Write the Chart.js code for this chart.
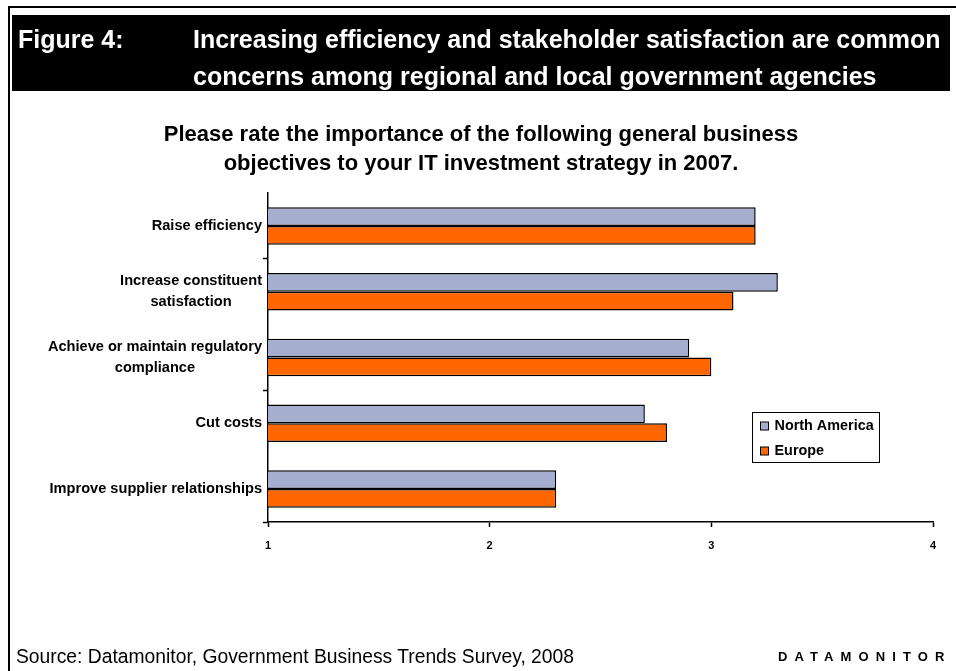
<!DOCTYPE html>
<html>
<head>
<meta charset="utf-8">
<script src="https://cdn.jsdelivr.net/npm/chart.js@4.4.1/dist/chart.umd.min.js"></script>
<style>
  html, body { margin: 0; padding: 0; background: #fff; }
  #page { position: relative; width: 956px; height: 671px; overflow: hidden;
          font-family: "Liberation Sans", Arial, sans-serif; }
  #chart { position: absolute; left: 0; top: 0; }
  #frame { position: absolute; left: 8px; top: 6px; width: 1000px; height: 700px;
           border-top: 2px solid #000; border-left: 2px solid #000; pointer-events: none; }
  #band { position: absolute; left: 12px; top: 15px; width: 938px; height: 76px;
          background: #000; color: #fff; font-weight: bold; font-size: 25px; line-height: 37px; }
  #band .fig { position: absolute; left: 6px; top: 6px; }
  #band .head { position: absolute; left: 181px; top: 6px; white-space: nowrap; }
  #source { position: absolute; left: 16px; top: 646px; font-size: 19.3px; line-height: 22px; white-space: nowrap; }
  #brand { position: absolute; left: 778px; top: 649px; font-size: 13px; font-weight: bold;
           letter-spacing: 7.1px; line-height: 16px; white-space: nowrap; }
</style>
</head>
<body>
<div id="page">
  <canvas id="chart" width="956" height="671"></canvas>
  <div id="frame"></div>
  <div id="band">
    <div class="fig">Figure 4:</div>
    <div class="head">Increasing efficiency and stakeholder satisfaction are common<br>concerns among regional and local government agencies</div>
  </div>
  <div id="source">Source: Datamonitor, Government Business Trends Survey, 2008</div>
  <div id="brand">DATAMONITOR</div>
</div>
<script>
// Survey objectives (multi-line labels) and mean importance ratings
const categories = [
  ["Raise efficiency"],
  ["Increase constituent", "satisfaction"],
  ["Achieve or maintain regulatory", "compliance"],
  ["Cut costs"],
  ["Improve supplier relationships"]
];
const northAmerica = [3.2, 3.3, 2.9, 2.7, 2.3];
const europe = [3.2, 3.1, 3.0, 2.8, 2.3];
const ratingTicks = [1, 2, 3, 4];
const questionLines = [
  "Please rate the importance of the following general business",
  "objectives to your IT investment strategy in 2007."
];

const FONT = '"Liberation Sans", Arial, sans-serif';

// Category labels: each block right-aligned to the axis, its lines centred
const categoryLabels = {
  id: 'categoryLabels',
  afterDraw(chart) {
    const { ctx } = chart;
    const y = chart.scales.y;
    ctx.save();
    ctx.font = 'bold 14.6px ' + FONT;
    ctx.fillStyle = '#000';
    ctx.textBaseline = 'middle';
    ctx.textAlign = 'center';
    const right = y.right - 6;
    const lh = 21;
    chart.data.labels.forEach((lines, i) => {
      const yc = y.getPixelForValue(i);
      const w = Math.max(...lines.map(l => ctx.measureText(l).width));
      const cx = right - w / 2;
      lines.forEach((l, j) => ctx.fillText(l, cx, yc + (j - (lines.length - 1) / 2) * lh));
    });
    ctx.restore();
  }
};

// Boxed legend inside the plot area
const boxedLegend = {
  id: 'boxedLegend',
  afterDraw(chart) {
    const { ctx } = chart;
    const x0 = 752.5, y0 = 412.5, w = 127, h = 50;
    ctx.save();
    ctx.fillStyle = '#fff';
    ctx.fillRect(x0, y0, w, h);
    ctx.strokeStyle = '#000';
    ctx.lineWidth = 1;
    ctx.strokeRect(x0, y0, w, h);
    ctx.font = 'bold 14.4px ' + FONT;
    ctx.textBaseline = 'middle';
    ctx.textAlign = 'left';
    chart.data.datasets.forEach((ds, i) => {
      const cy = y0 + 13.5 + i * 25;
      ctx.fillStyle = ds.backgroundColor;
      ctx.fillRect(x0 + 8, cy - 4, 8, 8);
      ctx.strokeStyle = '#000';
      ctx.lineWidth = 1;
      ctx.strokeRect(x0 + 8, cy - 4, 8, 8);
      ctx.fillStyle = '#000';
      ctx.fillText(ds.label, x0 + 22, cy);
    });
    ctx.restore();
  }
};

new Chart(document.getElementById('chart'), {
  type: 'bar',
  data: {
    labels: categories,
    datasets: [
      { label: 'North America', data: northAmerica, backgroundColor: '#A6AED0',
        borderColor: '#000', borderWidth: 1.5 },
      { label: 'Europe', data: europe, backgroundColor: '#FF6600',
        borderColor: '#000', borderWidth: 1.5 }
    ]
  },
  options: {
    indexAxis: 'y',
    responsive: false,
    animation: false,
    devicePixelRatio: 1,
    categoryPercentage: 0.57,
    barPercentage: 1.0,
    layout: { padding: { left: 29, right: 23, top: 0, bottom: 109 } },
    plugins: {
      legend: { display: false },
      tooltip: { enabled: false },
      title: {
        display: true,
        text: questionLines,
        color: '#000',
        font: { family: FONT, size: 22, weight: 'bold', lineHeight: 29 / 22 },
        padding: { top: 120, bottom: 15 }
      }
    },
    scales: {
      x: {
        type: 'linear',
        min: 1,
        max: 4,
        afterBuildTicks: s => { s.ticks = ratingTicks.map(v => ({ value: v })); },
        ticks: { color: '#000', padding: 12, font: { family: FONT, size: 11, weight: 'bold' } },
        grid: { drawOnChartArea: false, drawTicks: true, tickLength: 5, tickColor: '#000', tickWidth: 1.5 },
        border: { display: true, color: '#000', width: 1.5 },
        afterFit: s => { s.height = 40; }
      },
      y: {
        ticks: { display: false },
        grid: {
          drawOnChartArea: false, drawTicks: true, tickLength: 5, tickWidth: 1.5,
          tickColor: c => (c.index === undefined || c.index % 2 === 1) ? '#000' : 'rgba(0,0,0,0)'
        },
        border: { display: true, color: '#000', width: 1.5 },
        afterFit: s => { s.width = 239; }
      }
    }
  },
  plugins: [categoryLabels, boxedLegend]
});
</script>
</body>
</html>
